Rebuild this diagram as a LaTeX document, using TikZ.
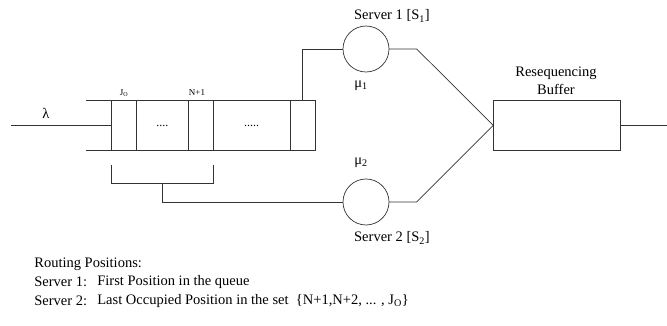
\documentclass[tikz,border=0pt]{standalone}
\usepackage{fontspec}
\setmainfont{Liberation Serif}
\begin{document}
\begin{tikzpicture}[x=1pt,y=-1pt,line width=0.7pt,
  ln/.style={draw=black!80},
  cell/.style={draw=black!80,minimum height=50pt,inner sep=0pt,outer sep=0pt,font=\fontsize{12}{12}\selectfont},
  srv/.style={circle,draw=black!80,minimum size=46pt,inner sep=0pt,outer sep=0pt},
  bufbox/.style={draw=black!80,minimum width=127.4pt,minimum height=50.7pt,inner sep=0pt,outer sep=0pt},
  lbl/.style={font=\fontsize{14.5}{18}\selectfont,inner sep=0pt},
  smalltxt/.style={font=\fontsize{9}{10}\selectfont,inner sep=0pt}]
\useasboundingbox (0,0) rectangle (667,326);
% queue cells
\node[cell,minimum width=25.7pt] (c1) at (123.85,125.7) {};
\node[cell,minimum width=51.3pt] (c2) at (162.35,125.7) {....};
\node[cell,minimum width=25pt] (c3) at (200.5,125.7) {};
\node[cell,minimum width=77pt] (c4) at (251.5,125.7) {.....};
\node[cell,minimum width=25pt] (c5) at (302.5,125.7) {};
\coordinate (qt) at (86,100.7);
\coordinate (qb) at (86,150.7);
\draw[ln] (qt) -- (c1.north west);
\draw[ln] (qb) -- (c1.south west);
% input
\coordinate (in) at (11,125.7);
\draw[ln] (in) -- (c1.west);
\node[lbl] (lam) at (46,113) {λ};
\node[smalltxt] (jo) at (124,93) {J\textsubscript{O}};
\node[smalltxt] (n1) at (197,93) {N+1};
% servers
\node[srv] (s1) at (366,49) {};
\node[srv] (s2) at (366,202) {};
\node[bufbox] (buf) at (557,125.35) {};
\coordinate (j1) at (416.7,49);
\coordinate (j2) at (416.7,202);
\coordinate (out) at (667,125.35);
\draw[ln] (c5.north) |- (s1.west);
\draw[ln] (s1.east) -- (j1) -- (buf.west);
\draw[ln] (s2.east) -- (j2) -- (buf.west);
\draw[ln] (buf.east) -- (out);
% bracket
\coordinate (bl) at (111,165);
\coordinate (blb) at (111,183);
\coordinate (brb) at (213,183);
\coordinate (br) at (213,165);
\coordinate (bm) at (162,183);
\draw[ln] (bl) -- (blb) -- (brb) -- (br);
\draw[ln] (bm) |- (s2.west);
% labels
\node[lbl] (s1l) at (392,16) {Server 1 [S\textsubscript{1}]};
\node[lbl] (mu1) at (361,86) {μ\textsubscript{1}};
\node[lbl] (mu2) at (361,163) {μ\textsubscript{2}};
\node[lbl] (s2l) at (392,238) {Server 2 [S\textsubscript{2}]};
\node[lbl,align=center] (bufl) at (556,81) {Resequencing\\Buffer};
% bottom text
\node[lbl,anchor=west] (rp) at (34,264) {Routing Positions:};
\node[lbl,anchor=west] (r1a) at (34,282) {Server 1:};
\node[lbl,anchor=west] (r1b) at (97,282) {First Position in the queue};
\node[lbl,anchor=west] (r2a) at (34,301) {Server 2:};
\node[lbl,anchor=west] (r2b) at (97,301) {Last Occupied Position in the set\ \ \{N+1,N+2, ... , J\textsubscript{O}\}};
\end{tikzpicture}
\end{document}
